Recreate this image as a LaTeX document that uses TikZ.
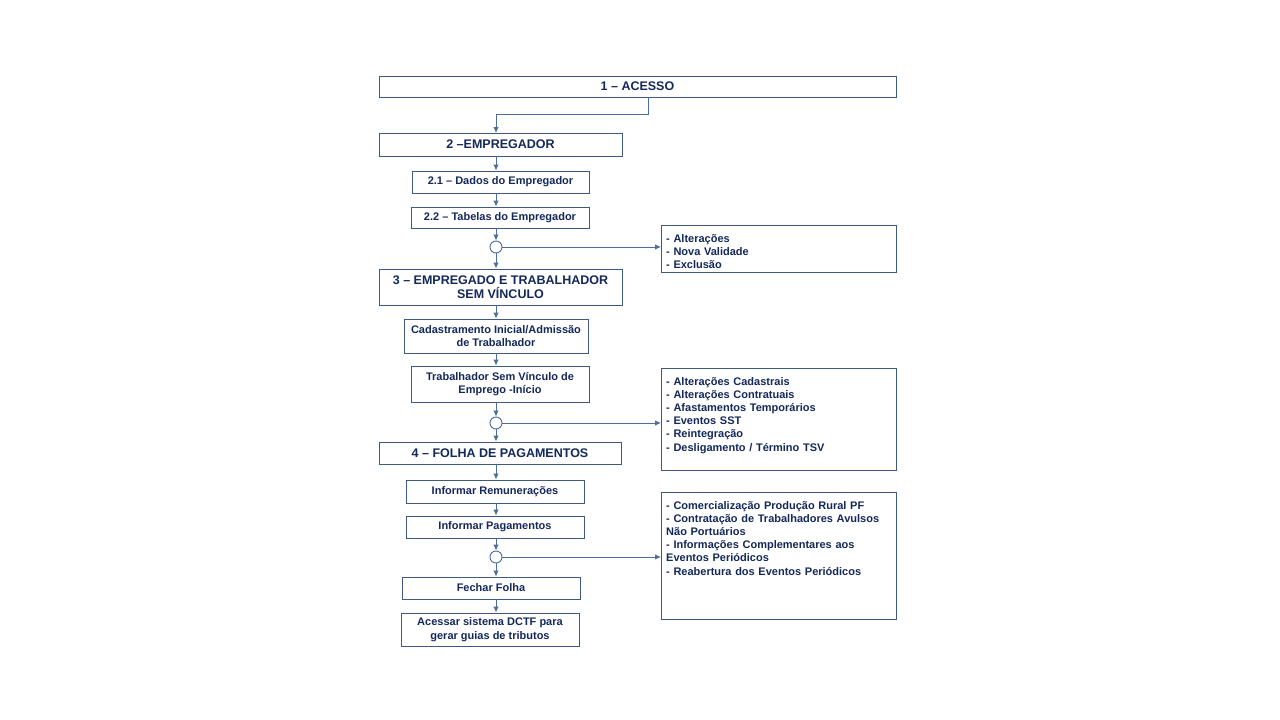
\documentclass[tikz,border=0pt]{standalone}
\usepackage{fontspec}
\setmainfont{Liberation Sans}
\usetikzlibrary{arrows.meta}
\definecolor{navy}{HTML}{14285A}
\definecolor{slate}{HTML}{3F5A80}
\definecolor{flow}{HTML}{4D6E99}

\begin{document}
\begin{tikzpicture}[x=1pt, y=-1pt,
	box/.style={draw=slate, line width=0.9pt, text=navy, font=\bfseries\fontsize{11}{13.5}\selectfont, align=center, inner sep=0pt},
	title/.style={box, font=\bfseries\fontsize{12.5}{14}\selectfont},
	listbox/.style={draw=slate, line width=0.9pt, anchor=north west, minimum width=235pt, inner sep=0pt},
	listtext/.style={text=navy, font=\bfseries\fontsize{11}{13.2}\selectfont, align=left, anchor=north west, inner xsep=5pt, inner ysep=9pt, text width=228pt},
	joint/.style={circle, draw=flow, fill=white, line width=0.9pt, minimum size=12pt, inner sep=0pt},
	flowto/.style={draw=flow, line width=0.9pt, -{Latex[length=6pt, width=5.5pt]}}]
	\useasboundingbox[fill=white] (0,0) rectangle (1280,720);

	\node[title, minimum width=517pt, minimum height=21pt] (acesso) at (637.5,86.5) {1 -- ACESSO};
	\node[title, minimum width=243pt, minimum height=23pt] (empregador) at (500.5,144.5) {2 --EMPREGADOR};
	\node[box, minimum width=177pt, minimum height=22pt] (dados) at (500.5,182) {2.1 -- Dados do Empregador};
	\node[box, minimum width=178pt, minimum height=21pt] (tabelas) at (500,217.5) {2.2 -- Tabelas do Empregador};
	\node[joint] (j1) at (496,247) {};
	\node[title, minimum width=243pt, minimum height=36pt] (empregado) at (500.5,287) {3 -- EMPREGADO E TRABALHADOR\\SEM VÍNCULO};
	\node[box, minimum width=184pt, minimum height=34pt] (cadastro) at (496,336) {Cadastramento Inicial/Admissão\\de Trabalhador};
	\node[box, minimum width=178pt, minimum height=36pt] (tsv) at (500,384) {Trabalhador Sem Vínculo de\\Emprego -Início};
	\node[joint] (j2) at (496,423) {};
	\node[title, minimum width=242pt, minimum height=22pt] (folha) at (500,453) {4 -- FOLHA DE PAGAMENTOS};
	\node[box, minimum width=178pt, minimum height=23pt] (remun) at (495,491.5) {Informar Remunerações};
	\node[box, minimum width=178pt, minimum height=22pt] (pagam) at (495,527) {Informar Pagamentos};
	\node[joint] (j3) at (496,557) {};
	\node[box, minimum width=178pt, minimum height=22pt] (fechar) at (491,588) {Fechar Folha};
	\node[box, minimum width=178pt, minimum height=33pt] (dctf) at (490,629.5) {Acessar sistema DCTF para\\gerar guias de tributos};

	\node[listbox, minimum height=47pt] (l1) at (661,225) {};
	\node[listbox, minimum height=102pt] (l2) at (661,368) {};
	\node[listbox, minimum height=127pt] (l3) at (661,492) {};
	\node[listtext] (l1t) at (l1.north west) {- Alterações\\- Nova Validade\\- Exclusão};
	\node[listtext] (l2t) at (l2.north west) {- Alterações Cadastrais\\- Alterações Contratuais\\- Afastamentos Temporários\\- Eventos SST\\- Reintegração\\- Desligamento / Término TSV};
	\node[listtext] (l3t) at (l3.north west) {- Comercialização Produção Rural PF\\- Contratação de Trabalhadores Avulsos\\Não Portuários\\- Informações Complementares aos\\Eventos Periódicos\\- Reabertura dos Eventos Periódicos};

	\coordinate (bend) at (648,114);
	\draw[flowto] (acesso.south -| bend) -- (bend) -| (496,133);
	\foreach \a/\b in {empregador/dados, dados/tabelas, tabelas/j1, j1/empregado, empregado/cadastro, cadastro/tsv, tsv/j2, j2/folha, folha/remun, remun/pagam, pagam/j3, j3/fechar, fechar/dctf}
		\draw[flowto] (\a.south -| 496,0) -- (\b.north -| 496,0);
	\draw[flowto] (j1.east) -- (j1.east -| l1.west);
	\draw[flowto] (j2.east) -- (j2.east -| l2.west);
	\draw[flowto] (j3.east) -- (j3.east -| l3.west);
\end{tikzpicture}
\end{document}
